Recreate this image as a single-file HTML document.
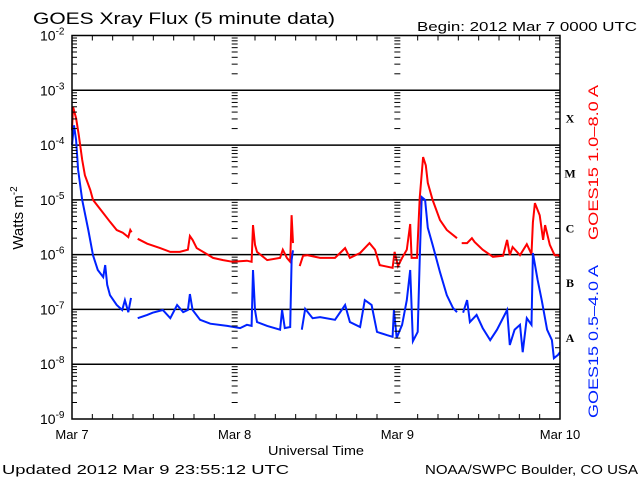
<!DOCTYPE html>
<html><head><meta charset="utf-8"><style>
html,body{margin:0;padding:0;background:#fff;}
svg{display:block;font-family:"Liberation Sans",sans-serif;}
</style></head><body>
<svg id="chart" width="640" height="480" viewBox="0 0 640 480" xmlns="http://www.w3.org/2000/svg">
<rect width="640" height="480" fill="#fff"/>
<text x="33" y="24" font-size="17" textLength="302" lengthAdjust="spacingAndGlyphs">GOES Xray Flux (5 minute data)</text>
<text x="417" y="31" font-size="13" textLength="220" lengthAdjust="spacingAndGlyphs">Begin:  2012 Mar 7 0000 UTC</text>
<text transform="translate(23,218) rotate(-90)" font-size="15" text-anchor="middle">Watts m<tspan font-size="10" dy="-6">-2</tspan></text>
<text x="268" y="455" font-size="13" textLength="96" lengthAdjust="spacingAndGlyphs">Universal Time</text>
<text x="2" y="474" font-size="13" textLength="287" lengthAdjust="spacingAndGlyphs">Updated 2012 Mar  9 23:55:12 UTC</text>
<text x="425" y="474" font-size="13" textLength="213" lengthAdjust="spacingAndGlyphs">NOAA/SWPC Boulder, CO USA</text>
<text transform="translate(598,240) rotate(-90)" font-size="14" fill="#ff0000" textLength="155" lengthAdjust="spacingAndGlyphs">GOES15 1.0–8.0 A</text>
<text transform="translate(598,418) rotate(-90)" font-size="14" fill="#0022ff" textLength="153" lengthAdjust="spacingAndGlyphs">GOES15 0.5–4.0 A</text>
<g id="grid"></g>
<g id="series"></g>
<g id="axes"></g>
</svg>
<script>
const redHours=[0,0.15,0.6,1.0,1.5,1.9,2.7,3.1,4.6,5.6,6.6,7.5,8.3,8.6,8.8,null,9.7,11.1,13.0,14.5,15.9,17.1,17.4,17.8,18.4,19.9,20.8,22.3,23.7,25.8,26.5,26.7,27.0,27.3,28.8,30.7,31.1,31.7,32.2,32.4,32.6,null,33.6,34.1,34.7,36.6,38.8,40.3,41.0,42.5,43.9,44.7,45.4,47.3,47.6,48.1,48.7,49.4,49.9,50.1,50.9,51.3,51.8,52.2,52.5,53.2,54.3,55.3,56.8,null,57.5,58.3,59.0,59.4,60.6,62.1,63.6,64.2,64.6,65.0,66.1,67.1,67.8,68.0,68.3,69.0,69.5,69.8,70.5,71.2,71.7,72.0];
const redLog=[-3.73,-3.30,-3.51,-3.82,-4.27,-4.55,-4.82,-5.00,-5.24,-5.40,-5.55,-5.60,-5.68,-5.55,-5.59,null,-5.71,-5.80,-5.88,-5.95,-5.95,-5.91,-5.66,-5.73,-5.88,-5.99,-6.06,-6.10,-6.13,-6.11,-6.13,-5.46,-5.82,-5.95,-6.10,-6.06,-5.91,-6.06,-6.13,-5.28,-5.79,null,-6.21,-6.02,-6.01,-6.06,-6.06,-5.88,-6.06,-5.97,-5.79,-5.91,-6.19,-6.24,-5.95,-6.21,-6.06,-5.91,-5.44,-6.06,-6.06,-4.97,-4.22,-4.37,-4.69,-5.00,-5.37,-5.55,-5.70,null,-5.79,-5.79,-5.70,-5.77,-5.91,-6.04,-6.02,-5.73,-6.01,-5.86,-6.01,-5.81,-5.99,-5.41,-5.06,-5.28,-5.73,-5.46,-5.82,-6.01,-6.01,-6.04];
const blueHours=[0,0.3,0.6,0.9,1.5,2.4,3.1,3.8,4.6,4.9,5.2,5.6,6.6,7.4,7.8,8.3,8.7,null,9.7,11.1,11.9,13.4,14.5,15.5,16.4,17.1,17.4,17.8,18.9,20.4,22.9,24.8,25.8,26.5,26.7,27.0,27.3,28.8,30.7,31.0,31.4,32.2,32.4,32.6,null,33.9,34.4,35.5,36.6,38.8,40.3,41.0,42.5,43.2,44.2,45.0,46.5,47.3,47.5,47.9,48.7,49.4,49.9,50.3,51.0,51.3,51.6,52.1,52.5,53.2,54.3,55.3,56.2,56.8,null,57.7,58.3,58.7,59.7,60.6,61.7,62.7,64.2,64.6,65.3,66.1,66.5,67.1,67.8,68.0,68.7,69.3,70.1,70.8,71.1,71.7,72.0];
const blueLog=[-4.0,-3.64,-3.91,-4.45,-5.00,-5.55,-6.01,-6.28,-6.41,-6.19,-6.55,-6.74,-6.92,-7.01,-6.83,-7.05,-6.79,null,-7.16,-7.10,-7.06,-7.01,-7.16,-6.92,-7.05,-7.01,-6.72,-7.01,-7.19,-7.26,-7.30,-7.34,-7.28,-7.30,-6.28,-7.01,-7.23,-7.30,-7.37,-7.01,-7.34,-7.32,-6.10,-5.92,null,-7.37,-6.99,-7.16,-7.14,-7.19,-6.92,-7.23,-7.32,-6.83,-6.92,-7.41,-7.47,-7.50,-7.01,-7.52,-7.28,-6.83,-6.28,-7.58,-7.41,-6.10,-4.95,-5.00,-5.51,-5.82,-6.32,-6.74,-6.97,-7.05,null,-7.06,-6.83,-7.23,-7.10,-7.34,-7.56,-7.37,-7.01,-7.65,-7.37,-7.28,-7.78,-7.16,-7.28,-5.97,-6.46,-6.83,-7.37,-7.56,-7.89,-7.83,-7.78];
const decadeLabels=["-2","-3","-4","-5","-6","-7","-8","-9"];
const dayLabels=["Mar 7","Mar 8","Mar 9","Mar 10"];
const classLabels=["X","M","C","B","A"];

const NS="http://www.w3.org/2000/svg";
const X0=72,X1=560,Y0=35.5,Y1=419;
function xScale(h){return X0+(X1-X0)*h/72;}
function yScale(lg){return Y0+(Y1-Y0)*(-2-lg)/7;}
function mk(tag,attrs,parent){const e=document.createElementNS(NS,tag);for(const k in attrs)e.setAttribute(k,attrs[k]);parent.appendChild(e);return e;}
const grid=document.getElementById('grid'),axes=document.getElementById('axes'),series=document.getElementById('series');

decadeLabels.forEach((d,i)=>{
  const lg=parseInt(d),y=yScale(lg);
  if(i>0&&i<decadeLabels.length-1){
    const l=mk('line',{x1:X0,x2:X1,y1:y,y2:y,stroke:'#000','stroke-width':1.5},grid);
    
    
  }
  const t=mk('text',{x:40,y:y+5,'font-size':14},axes);
  
  
  t.textContent='10';
  const s=mk('tspan',{'font-size':10,dy:-6},t);s.textContent=d;
});
const dayH=[0,24,48,72];
for(let k=-9;k<-2;k++){
  for(let m=2;m<=9;m++){
    const y=yScale(k+Math.log10(m));
    dayH.forEach((h,j)=>{
      const x=xScale(h);
      const len=5;
      const a=(j===3)?x-len:(j===0?x:x-3);
      const b=(j===3)?x:(j===0?x+len:x+3);
      const tk=mk('line',{x1:a,x2:b,y1:y,y2:y,stroke:'#000','stroke-width':1},axes);
      
      
    });
  }
  [24,48].forEach(h=>{
    const y=yScale(k);const x=xScale(h);
    const tk=mk('line',{x1:x-4,x2:x+4,y1:y,y2:y,stroke:'#000','stroke-width':1},axes);
    
    
  });
}
for(let h=3;h<72;h+=3){
  if(h%24===0)continue;
  const x=xScale(h);
  const t1=mk('line',{x1:x,x2:x,y1:Y0,y2:Y0+5,stroke:'#000','stroke-width':1},axes);
  
  
  const t2=mk('line',{x1:x,x2:x,y1:Y1-5,y2:Y1,stroke:'#000','stroke-width':1},axes);
  
  
}
const frame=mk('rect',{x:X0,y:Y0,width:X1-X0,height:Y1-Y0,fill:'none',stroke:'#000','stroke-width':1.5},axes);


dayLabels.forEach((d,i)=>{
  const t=mk('text',{x:xScale(i*24),y:439,'font-size':13,'text-anchor':'middle'},axes);
  
  
  t.textContent=d;
});
classLabels.forEach((c,i)=>{
  const t=mk('text',{x:570,y:yScale(-3.5-i)+5,'font-size':12,'font-weight':'bold','text-anchor':'middle','font-family':'Liberation Serif, serif'},axes);
  
  
  t.textContent=c;
});
function drawSeries(hours,vals,color,name){
  let d='',pen=false;
  for(let i=0;i<hours.length;i++){
    if(hours[i]===null||vals[i]===null){pen=false;continue;}
    d+=(pen?'L':'M')+xScale(hours[i]).toFixed(1)+' '+yScale(vals[i]).toFixed(1)+' ';
    pen=true;
  }
  const p=mk('path',{d:d,fill:'none',stroke:color,'stroke-width':2,'stroke-linejoin':'miter'},series);
  
  
}
drawSeries(redHours,redLog,'#ff0000','long-channel-line');
drawSeries(blueHours,blueLog,'#0022ff','short-channel-line');
</script>
</body></html>
